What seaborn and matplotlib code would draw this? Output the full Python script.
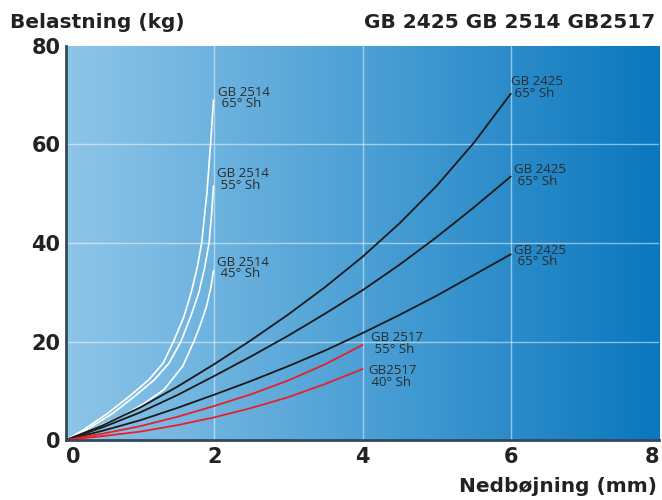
import numpy as np
import pandas as pd
import matplotlib
matplotlib.use("Agg")
import matplotlib.pyplot as plt
import seaborn as sns
from matplotlib.colors import LinearSegmentedColormap

sns.set_theme(style="white")
plt.rcParams['font.family'] = ['DejaVu Sans']

# ---- data ----
w65_x = [0, 0.23, 0.56, 0.85, 1.115, 1.31, 1.45, 1.59, 1.69, 1.77, 1.83, 1.90, 1.95, 1.99]
w65_y = [0, 2, 5.4, 8.8, 12.2, 15.6, 20, 25, 30, 35, 40, 50, 60, 69]
w55_x = [0, 0.27, 0.63, 0.92, 1.19, 1.39, 1.55, 1.68, 1.79, 1.87, 1.93, 1.965, 1.99]
w55_y = [0, 2, 5.4, 8.8, 12.2, 15.6, 20, 25, 29.8, 35, 40, 46, 51.6]
w45_x = [0, 0.33, 0.78, 1.06, 1.32, 1.575, 1.725, 1.815, 1.895, 1.955, 1.99]
w45_y = [0, 2, 5, 7.5, 10.2, 15, 20, 23.5, 27.1, 31, 34.4]

b_x = [0, 0.5, 1, 1.5, 2, 2.5, 3, 3.5, 4, 4.5, 5, 5.5, 6]
b_top_y = [0, 3.0, 6.6, 10.8, 15.4, 20.3, 25.5, 31.1, 37.2, 44.0, 51.6, 60.3, 70.3]
b_mid_y = [0, 2.6, 5.6, 9.1, 13.0, 17.0, 21.2, 25.7, 30.4, 35.6, 41.2, 47.2, 53.5]
b_low_y = [0, 1.9, 4.0, 6.5, 9.2, 12.0, 15.0, 18.2, 21.7, 25.4, 29.3, 33.5, 37.7]

r_x = [0, 0.5, 1, 1.5, 2, 2.5, 3, 3.5, 4]
r55_y = [0, 1.3, 2.8, 4.7, 6.9, 9.3, 12.1, 15.4, 19.3]
r40_y = [0, 0.8, 1.7, 3.0, 4.6, 6.5, 8.7, 11.4, 14.4]

x_ticks = [0, 2, 4, 6, 8]
y_ticks = [0, 20, 40, 60, 80]

labels = [
    ("GB 2514\n 65° Sh", 2.05, 71.9),
    ("GB 2514\n 55° Sh", 2.04, 55.4),
    ("GB 2514\n 45° Sh", 2.04, 37.4),
    ("GB 2425\n 65° Sh", 6.0, 74.1),
    ("GB 2425\n 65° Sh", 6.04, 56.2),
    ("GB 2425\n 65° Sh", 6.04, 39.8),
    ("GB 2517\n 55° Sh", 4.12, 22.1),
    ("GB2517\n 40° Sh", 4.08, 15.4),
]

series = [
    (w65_x, w65_y, "white", 1.2),
    (w55_x, w55_y, "white", 1.2),
    (w45_x, w45_y, "white", 1.2),
    (b_x, b_top_y, "#1a1a1a", 1.3),
    (b_x, b_mid_y, "#1a1a1a", 1.3),
    (b_x, b_low_y, "#1a1a1a", 1.3),
    (r_x, r55_y, "#e8202a", 1.3),
    (r_x, r40_y, "#e8202a", 1.3),
]

bold_font = ['DejaVu Sans']

fig = plt.figure(figsize=(6.62, 5.0), dpi=100)
ax = fig.add_axes([66/662, 60/500, 593/662, 394/500])

# gradient background
cmap = LinearSegmentedColormap.from_list("bg", ["#8ec5e8", "#4ca0d5", "#0a77be"])
grad = np.linspace(0, 1, 256).reshape(1, -1)
ax.imshow(grad, extent=[0, 8, 0, 80], aspect="auto", cmap=cmap, zorder=0)

for xv in [2, 4, 6]:
    ax.axvline(xv, color="white", alpha=0.5, lw=1.0, zorder=1)
for yv in [20, 40, 60]:
    ax.axhline(yv, color="white", alpha=0.5, lw=1.0, zorder=1)

for xs, ys, c, lw in series:
    df = pd.DataFrame({"x": xs, "y": ys})
    sns.lineplot(data=df, x="x", y="y", color=c, lw=lw, sort=False,
                 estimator=None, ax=ax, zorder=3)

for txt, tx, ty in labels:
    ax.text(tx, ty, txt, ha="left", va="top", fontsize=9.5, color="#2b2b2b",
            family=['Open Sans', 'DejaVu Sans'], linespacing=0.85, zorder=4)

ax.set_xlim(0, 8)
ax.set_ylim(0, 80)
ax.set_xticks(x_ticks)
ax.set_yticks(y_ticks)
ax.set_xticklabels([str(v) for v in x_ticks])
ax.set_yticklabels([str(v) for v in y_ticks])
for lab in ax.get_xticklabels() + ax.get_yticklabels():
    lab.set_family(bold_font)
    lab.set_fontweight("bold")
    lab.set_fontsize(15)
    lab.set_color("#222222")
xl = ax.get_xticklabels()
xl[0].set_horizontalalignment("left")
xl[-1].set_horizontalalignment("right")
ax.tick_params(axis="both", length=0)
ax.tick_params(axis="x", pad=5)
ax.tick_params(axis="y", pad=4)
ax.set_xlabel("")
ax.set_ylabel("")

for s in ["top", "right"]:
    ax.spines[s].set_visible(False)
for s in ["left", "bottom"]:
    ax.spines[s].set_color("#34495a")
    ax.spines[s].set_linewidth(2)
    ax.spines[s].set_zorder(5)

fig.text(10/662, 1 - 23/500, "Belastning (kg)", ha="left", va="center",
         fontsize=14.5, fontweight="bold", family=bold_font, color="#222222")
fig.text(655/662, 1 - 23/500, "GB 2425 GB 2514 GB2517", ha="right", va="center",
         fontsize=14.5, fontweight="bold", family=bold_font, color="#222222")
fig.text(657/662, 1 - 487/500, "Nedbøjning (mm)", ha="right", va="center",
         fontsize=14.5, fontweight="bold", family=bold_font, color="#222222")

fig.savefig("out.png", dpi=100)
